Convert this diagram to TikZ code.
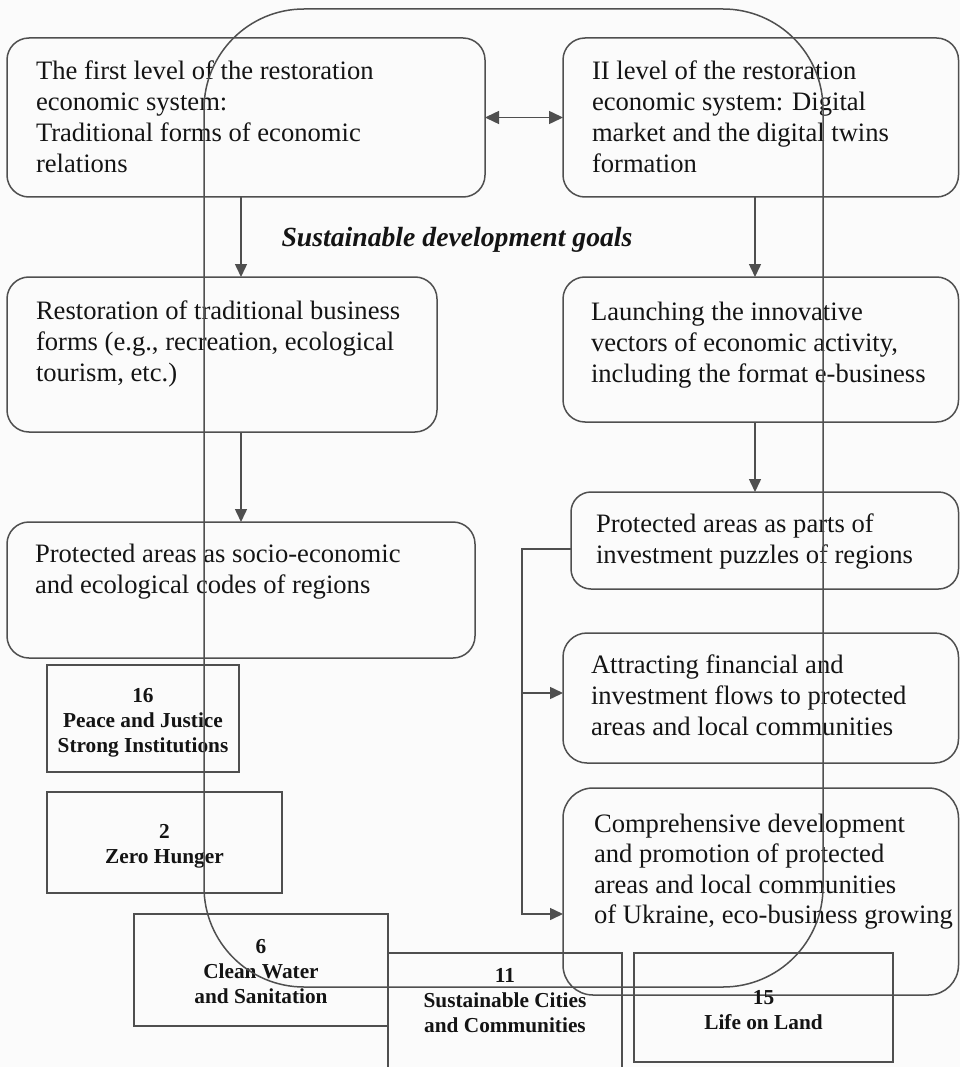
\documentclass[tikz,border=0pt]{standalone}
\usepackage{fontspec}
\setmainfont{Liberation Serif}
\usetikzlibrary{arrows.meta}
\definecolor{ink}{HTML}{4F4F4F}
\definecolor{txt}{HTML}{141414}
\definecolor{paper}{HTML}{FBFBFB}

\begin{document}
\begin{tikzpicture}[x=1pt,y=-1pt,
  every node/.style={inner sep=0pt, outer sep=0pt},
  rbox/.style={draw=ink, line width=1.5pt, rounded corners=#1, anchor=north west},
  rbox/.default=22pt,
  gbox/.style={draw=ink, line width=1.6pt, anchor=north west},
  body/.style={anchor=base west, text=txt, font=\fontsize{26.6}{31}\selectfont},
  goal/.style={anchor=base, text=txt, font=\bfseries\fontsize{21.3}{25}\selectfont},
  link/.style={draw=ink, line width=1.5pt},
  arr/.style={link, -{Triangle[length=13pt,width=12pt]}},
]
\useasboundingbox (0,0) rectangle (960,1067);
\fill[paper] (0,0) rectangle (960,1067);

% restoration levels and their stages
\node[rbox, minimum width=478pt, minimum height=159pt] (A) at (7,38) {};
\node[rbox, minimum width=395.5pt, minimum height=159pt] (B) at (563,38) {};
\node[rbox, minimum width=430pt, minimum height=155pt] (C) at (7,277) {};
\node[rbox, minimum width=395.5pt, minimum height=145pt] (D) at (563,277) {};
\node[rbox, minimum width=468pt, minimum height=136pt] (E) at (7,522) {};
\node[rbox=20pt, minimum width=387.5pt, minimum height=97pt] (F) at (571,492) {};
\node[rbox=24pt, minimum width=395.5pt, minimum height=130pt] (G) at (563,633) {};
\node[rbox=30pt, minimum width=395.5pt, minimum height=207pt] (H) at (563,788) {};

\node[body] (At) at (36,80) {\parbox[t]{440pt}{The first level of the restoration\\economic system:\\Traditional forms of economic\\relations}};
\node[body] (Bt) at (592,80) {\parbox[t]{360pt}{II level of the restoration\\economic system: Digital\\market and the digital twins\\formation}};
\node[body] (Ct) at (36,319) {\parbox[t]{400pt}{Restoration of traditional business\\forms (e.g., recreation, ecological\\tourism, etc.)}};
\node[body] (Dt) at (591,320) {\parbox[t]{360pt}{Launching the innovative\\vectors of economic activity,\\including the format e-business}};
\node[body] (Et) at (35,562) {\parbox[t]{440pt}{Protected areas as socio-economic\\and ecological codes of regions}};
\node[body] (Ft) at (596,532) {\parbox[t]{360pt}{Protected areas as parts of\\investment puzzles of regions}};
\node[body] (Gt) at (591,673) {\parbox[t]{360pt}{Attracting financial and\\investment flows to protected\\areas and local communities}};
\node[body, font=\fontsize{26.6}{30.5}\selectfont] (Ht) at (594,832) {\parbox[t]{360pt}{Comprehensive development\\and promotion of protected\\areas and local communities\\of Ukraine, eco-business growing}};

% sustainable development goals
\node[gbox, minimum width=192pt, minimum height=107pt] (g16) at (47,665) {};
\node[gbox, minimum width=235pt, minimum height=101pt] (g2) at (47,792) {};
\node[gbox, minimum width=254pt, minimum height=112pt] (g6) at (134,914) {};
\node[gbox, minimum width=234pt, minimum height=130pt] (g11) at (388,953) {};
\node[gbox, minimum width=259pt, minimum height=109pt] (g15) at (634,953) {};

\node[goal] (g16t) at (143,702) {\parbox[t]{240pt}{\centering 16\\Peace and Justice\\Strong Institutions}};
\node[goal] (g2t) at (164.5,838) {\parbox[t]{240pt}{\centering 2\\Zero Hunger}};
\node[goal] (g6t) at (261,953) {\parbox[t]{240pt}{\centering 6\\Clean Water\\and Sanitation}};
\node[goal] (g11t) at (505,982) {\parbox[t]{240pt}{\centering 11\\Sustainable Cities\\and Communities}};
\node[goal] (g15t) at (763.5,1004) {\parbox[t]{240pt}{\centering 15\\Life on Land}};

% the frame that gathers the goals
\node[draw=ink, line width=1.5pt, rounded corners=100pt, minimum width=619pt, minimum height=978pt, anchor=north west] (frame) at (204,9) {};

\node[anchor=base, text=txt, font=\bfseries\itshape\fontsize{27.7}{33}\selectfont] (title) at (457,247) {Sustainable development goals};

% connectors
\coordinate (cl) at (241,0);
\coordinate (cr) at (755,0);
\coordinate (jt) at (522,549);
\coordinate (jm) at (522,693);
\coordinate (jb) at (522,914);

\draw[link, {Triangle[length=14pt,width=13pt]}-{Triangle[length=14pt,width=13pt]}] (A.east) -- (B.west);
\draw[arr] (A.south -| cl) -- (C.north -| cl);
\draw[arr] (C.south -| cl) -- (E.north -| cl);
\draw[arr] (B.south -| cr) -- (D.north -| cr);
\draw[arr] (D.south -| cr) -- (F.north -| cr);
\draw[arr] (F.west |- jt) -- (jt) |- (H.west |- jb);
\draw[arr] (jm) -- (G.west |- jm);
\end{tikzpicture}
\end{document}
